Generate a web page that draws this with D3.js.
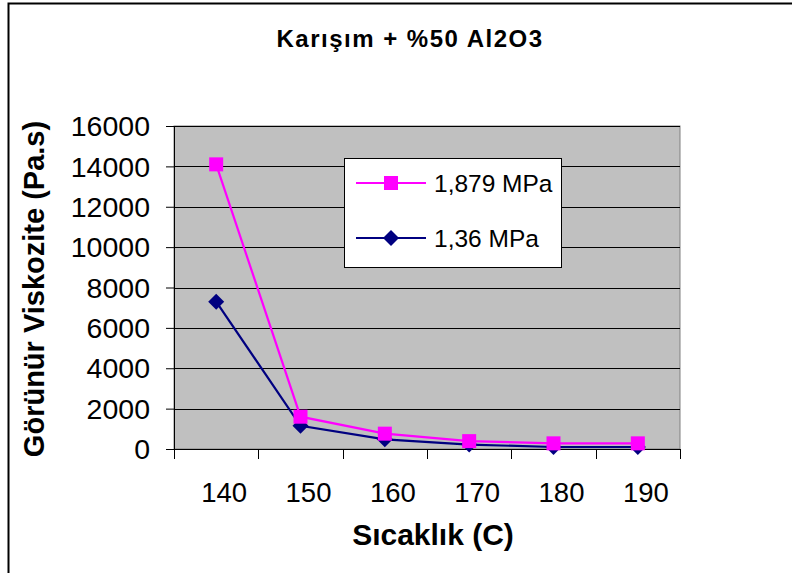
<!DOCTYPE html>
<html>
<head>
<meta charset="utf-8">
<script src="https://cdn.jsdelivr.net/npm/d3@7"></script>
<style>
  body { margin: 0; background: #fff; }
  text { font-family: 'Liberation Sans', Arial, sans-serif; fill: #000; }
</style>
</head>
<body>
<script>
var temps = ['140', '150', '160', '170', '180', '190'];
var highP = [14100, 1600, 760, 390, 280, 280];   // 1,879 MPa
var lowP  = [7300, 1150, 480, 220, 100, 100];    // 1,36 MPa
var yTicks = [0, 2000, 4000, 6000, 8000, 10000, 12000, 14000, 16000];

var w = 792, h = 573;
var plot = { left: 174, right: 680, top: 126, bottom: 449 };

var svg = d3.select('body').append('svg')
  .attr('width', w)
  .attr('height', h);

// outer chart border (only left/top edges fall inside the picture)
svg.append('rect')
  .attr('x', 8.5).attr('y', 3.5)
  .attr('width', 820).attr('height', 620)
  .attr('fill', 'none')
  .attr('stroke', '#000')
  .attr('stroke-width', 2);

var x = d3.scaleBand()
  .domain(temps)
  .range([plot.left, plot.right]);

var y = d3.scaleLinear()
  .domain([0, 16000])
  .range([plot.bottom, plot.top]);

// plot background
svg.append('rect')
  .attr('x', plot.left).attr('y', plot.top)
  .attr('width', plot.right - plot.left)
  .attr('height', plot.bottom - plot.top)
  .attr('fill', '#c0c0c0')
  .attr('stroke', '#808080')
  .attr('stroke-width', 1);

// gridlines
svg.append('g').selectAll('line')
  .data(yTicks.slice(1))
  .enter()
  .append('line')
    .attr('x1', plot.left).attr('x2', plot.right)
    .attr('y1', function(d) { return Math.round(y(d)) + 0.5; })
    .attr('y2', function(d) { return Math.round(y(d)) + 0.5; })
    .attr('stroke', '#000')
    .attr('stroke-width', 1);

// y axis
var yAxis = svg.append('g')
  .attr('transform', 'translate(' + plot.left + ',0)')
  .call(d3.axisLeft(y).tickValues(yTicks).tickSize(8).tickPadding(16).tickFormat(d3.format('d')));
yAxis.selectAll('text').style('font-size', '28.5px').attr('dy', '0.34em');
yAxis.select('.domain').attr('stroke', '#000');

// x axis: ticks on band edges
var xAxis = svg.append('g')
  .attr('transform', 'translate(0,' + plot.bottom + ')')
  .call(d3.axisBottom(x).tickSize(0).tickPadding(53));
xAxis.selectAll('text').style('font-size', '27.5px').attr('dx', '8').attr('dy', '0');
xAxis.select('.domain').attr('d', 'M' + plot.left + ',0.5H' + plot.right);

xAxis.selectAll('.edge')
  .data(temps.concat(['end']))
  .enter()
  .append('line')
    .attr('x1', function(d, i) { return Math.round(plot.left + i * x.step()) + 0.5; })
    .attr('x2', function(d, i) { return Math.round(plot.left + i * x.step()) + 0.5; })
    .attr('y1', 0).attr('y2', 10)
    .attr('stroke', '#000');

var line = d3.line()
  .x(function(d, i) { return x(temps[i]) + x.bandwidth() / 2; })
  .y(function(d) { return y(d); });

var series = [
  { name: '1,879 MPa', values: highP, color: '#ff00ff', shape: 'square' },
  { name: '1,36 MPa', values: lowP, color: '#000080', shape: 'diamond' }
];

function marker(sel, s) {
  if (s.shape === 'square') {
    sel.append('rect')
      .attr('x', -7).attr('y', -7)
      .attr('width', 14).attr('height', 14)
      .attr('fill', s.color);
  } else {
    sel.append('path')
      .attr('d', 'M0,-8L8,0L0,8L-8,0Z')
      .attr('fill', s.color);
  }
}

// draw navy first so pink sits on top like the original
series.slice().reverse().forEach(function(s) {
  svg.append('path')
    .datum(s.values)
    .attr('d', line)
    .attr('fill', 'none')
    .attr('stroke', s.color)
    .attr('stroke-width', 2.2);
});
series.slice().reverse().forEach(function(s) {
  svg.append('g').selectAll('.pt')
    .data(s.values)
    .enter()
    .append('g')
      .attr('transform', function(d, i) {
        return 'translate(' + (x(temps[i]) + x.bandwidth() / 2) + ',' + y(d) + ')';
      })
      .each(function() { marker(d3.select(this), s); });
});

// legend
var legend = svg.append('g').attr('transform', 'translate(344,158)');
legend.append('rect')
  .attr('x', 0.5).attr('y', 0.5)
  .attr('width', 217).attr('height', 109)
  .attr('fill', '#fff')
  .attr('stroke', '#000');

series.forEach(function(s, i) {
  var g = legend.append('g').attr('transform', 'translate(0,' + (25 + i * 55) + ')');
  g.append('line')
    .attr('x1', 12).attr('x2', 82)
    .attr('stroke', s.color)
    .attr('stroke-width', 2.2);
  marker(g.append('g').attr('transform', 'translate(47,0)'), s);
  g.append('text')
    .attr('x', 90).attr('y', 0)
    .attr('dy', '0.35em')
    .style('font-size', '24.5px')
    .text(s.name);
});

// titles
svg.append('text')
  .attr('x', 410).attr('y', 47)
  .attr('text-anchor', 'middle')
  .style('font-size', '24px')
  .style('font-weight', 'bold')
  .style('letter-spacing', '1.5px')
  .text('Karışım + %50 Al2O3');

svg.append('text')
  .attr('transform', 'translate(44,289) rotate(-90)')
  .attr('text-anchor', 'middle')
  .style('font-size', '29px')
  .style('font-weight', 'bold')
  .text('Görünür Viskozite (Pa.s)');

svg.append('text')
  .attr('x', 433).attr('y', 545)
  .attr('text-anchor', 'middle')
  .style('font-size', '30px')
  .style('font-weight', 'bold')
  .text('Sıcaklık (C)');
</script>
</body>
</html>
